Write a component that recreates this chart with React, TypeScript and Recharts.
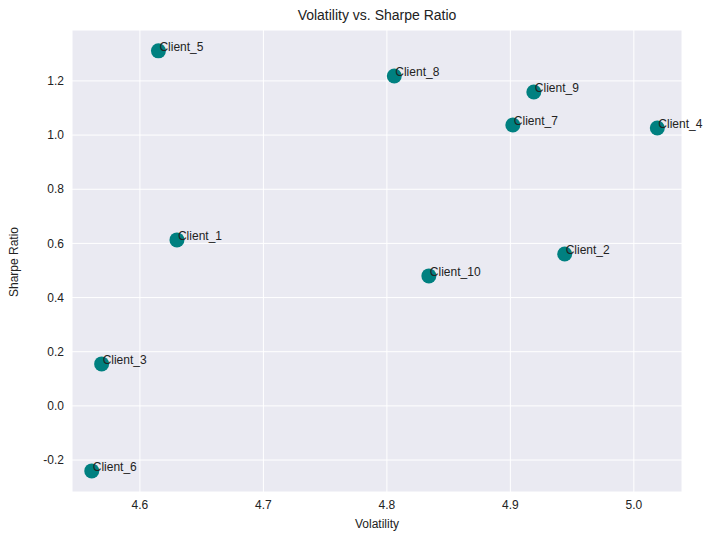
import { ScatterChart, Scatter, XAxis, YAxis, CartesianGrid } from 'recharts';

const clients = ['Client_1', 'Client_2', 'Client_3', 'Client_4', 'Client_5', 'Client_6', 'Client_7', 'Client_8', 'Client_9', 'Client_10'];
const volatility = [4.63, 4.944, 4.569, 5.019, 4.615, 4.561, 4.902, 4.806, 4.919, 4.834];
const sharpe = [0.613, 0.561, 0.155, 1.026, 1.311, -0.24, 1.037, 1.218, 1.159, 0.48];
const xTicks = [4.6, 4.7, 4.8, 4.9, 5.0];
const yTicks = [-0.2, 0, 0.2, 0.4, 0.6, 0.8, 1.0, 1.2];

const data = clients.map((name, i) => ({ name, x: volatility[i], y: sharpe[i] }));

const font = 'Liberation Sans, Arial, sans-serif';

function Dot(props: any) {
  const { cx, cy, payload } = props;
  return (
    <g>
      <circle cx={cx} cy={cy} r={7.5} fill="#008080" />
      <text x={cx + 1} y={cy} fontSize={12} fontFamily={font} fill="#222">
        {payload.name}
      </text>
    </g>
  );
}

export default function App() {
  document.body.style.margin = '0';
  return (
    <div style={{ width: 714, height: 540, background: '#fff', position: 'relative' }}>
      <div style={{ position: 'absolute', top: 7, width: '100%', paddingLeft: 40, boxSizing: 'border-box', textAlign: 'center', fontFamily: font, fontSize: 14, color: '#222' }}>
        Volatility vs. Sharpe Ratio
      </div>
      <ScatterChart width={714} height={540} margin={{ top: 30, right: 32, left: 0, bottom: 0 }}>
        <CartesianGrid fill="#eaeaf2" stroke="#ffffff" strokeWidth={1} />
        <XAxis
          type="number"
          dataKey="x"
          domain={[4.545, 5.039]}
          ticks={xTicks}
          tickFormatter={(v) => v.toFixed(1)}
          axisLine={false}
          tickLine={false}
          height={48}
          tick={{ fontSize: 12, fontFamily: font, fill: '#222' }}
          label={{ value: 'Volatility', position: 'insideBottom', offset: 12, fontSize: 12, fontFamily: font, fill: '#222' }}
        />
        <YAxis
          type="number"
          dataKey="y"
          domain={[-0.318, 1.388]}
          ticks={yTicks}
          tickFormatter={(v) => v.toFixed(1)}
          axisLine={false}
          tickLine={false}
          width={72}
          tick={{ fontSize: 12, fontFamily: font, fill: '#222' }}
          label={{ value: 'Sharpe Ratio', angle: -90, position: 'insideLeft', offset: 14, dy: 36, fontSize: 12, fontFamily: font, fill: '#222' }}
        />
        <Scatter data={data} shape={Dot} isAnimationActive={false} />
      </ScatterChart>
    </div>
  );
}
